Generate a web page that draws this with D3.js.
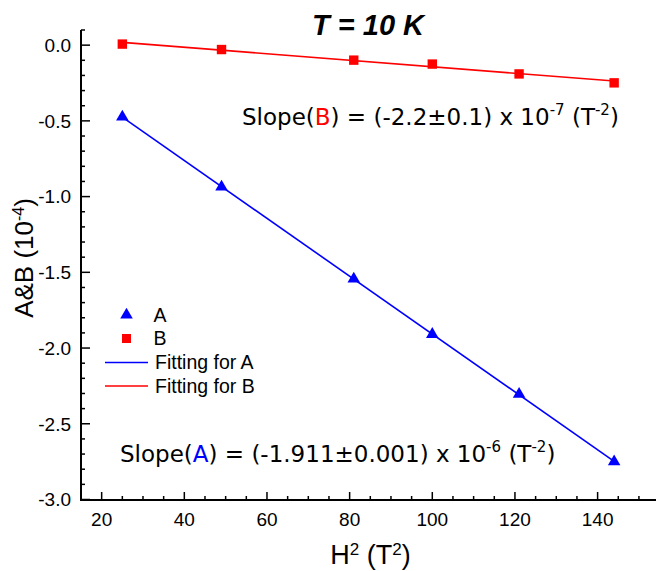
<!DOCTYPE html>
<html>
<head>
<meta charset="utf-8">
<script src="https://cdn.jsdelivr.net/npm/d3@7"></script>
<style>
  html, body { margin: 0; padding: 0; background: #fff; }
  svg { display: block; }
</style>
</head>
<body>
<svg id="chart" width="656" height="571"></svg>
<script>
// H^2 values (T^2) for H = 5, 7, 9, 10, 11, 12 T
const fieldSquared = [25, 49, 81, 100, 121, 144];
// Coefficients A and B in units of 1e-4
const seriesA = [-0.474, -0.936, -1.544, -1.909, -2.305, -2.750];
const seriesB = [0.007, -0.029, -0.099, -0.125, -0.190, -0.249];
const xTicks = [20, 40, 60, 80, 100, 120, 140];
const yTicks = [0.0, -0.5, -1.0, -1.5, -2.0, -2.5, -3.0];
const legendLabels = ["A", "B", "Fitting for A", "Fitting for B"];

const blue = "#0000ff", red = "#ff0000";
const sans = "'Liberation Sans', Arial, sans-serif";
const verdana = "'DejaVu Sans', Verdana, sans-serif";

const svg = d3.select("#chart");

const x = d3.scaleLinear().domain([15, 155]).range([81, 659.6]);
const y = d3.scaleLinear().domain([-3.0, 0.1]).range([499.5, 30]);

// least-squares straight line through a series
function linFit(xs, ys) {
  const mx = d3.mean(xs), my = d3.mean(ys);
  let sxy = 0, sxx = 0;
  xs.forEach((v, i) => { sxy += (v - mx) * (ys[i] - my); sxx += (v - mx) * (v - mx); });
  const slope = sxy / sxx;
  return { slope, intercept: my - slope * mx };
}

// bottom axis (ticks point into the plot)
const gx = svg.append("g").attr("transform", `translate(0,${y(-3.0) + 0.5})`);
gx.append("line").attr("x1", x(15) - 1).attr("x2", 660).attr("y1", 0).attr("y2", 0)
  .attr("stroke", "#000").attr("stroke-width", 2);
gx.selectAll(".tk").data(d3.range(15, 156, 5)).join("line")
  .attr("x1", d => x(d)).attr("x2", d => x(d))
  .attr("y1", 0).attr("y2", d => d % 20 === 0 ? -8 : -4)
  .attr("stroke", "#000").attr("stroke-width", 1.5);
gx.selectAll(".lbl").data(xTicks).join("text")
  .attr("x", d => x(d)).attr("y", 25.5)
  .attr("text-anchor", "middle")
  .attr("font-family", sans).attr("font-size", 19)
  .text(d => d);

// left axis
const gy = svg.append("g").attr("transform", `translate(${x(15)},0)`);
gy.append("line").attr("x1", 0).attr("x2", 0).attr("y1", y(0.1)).attr("y2", y(-3.0) + 1.5)
  .attr("stroke", "#000").attr("stroke-width", 2);
const yMinor = d3.range(-30, 2).map(v => v / 10);
gy.selectAll(".tk").data(yMinor).join("line")
  .attr("y1", d => y(d)).attr("y2", d => y(d))
  .attr("x1", 0).attr("x2", d => Math.abs(Math.round(d * 10)) % 5 === 0 ? 9 : 4)
  .attr("stroke", "#000").attr("stroke-width", 1.5);
gy.selectAll(".lbl").data(yTicks).join("text")
  .attr("x", -10).attr("y", d => y(d)).attr("dy", "0.36em")
  .attr("text-anchor", "end")
  .attr("font-family", sans).attr("font-size", 19)
  .text(d => d3.format(".1f")(d).replace("−", "-"));

// axis titles
const xt = svg.append("text").attr("x", 370.5).attr("y", 564)
  .attr("text-anchor", "middle").attr("font-family", sans).attr("font-size", 27);
xt.append("tspan").text("H");
xt.append("tspan").attr("dy", -9).attr("font-size", 17).text("2");
xt.append("tspan").attr("dy", 9).text(" (T");
xt.append("tspan").attr("dy", -9).attr("font-size", 17).text("2");
xt.append("tspan").attr("dy", 9).text(")");

const yt = svg.append("text").attr("transform", "translate(33,258) rotate(-90)")
  .attr("text-anchor", "middle").attr("font-family", sans).attr("font-size", 26);
yt.append("tspan").text("A&B (10");
yt.append("tspan").attr("dy", -9).attr("font-size", 16).text("-4");
yt.append("tspan").attr("dy", 9).text(")");

// title
svg.append("text").attr("x", 368).attr("y", 34.5)
  .attr("text-anchor", "middle").attr("font-family", sans)
  .attr("font-size", 29).attr("font-weight", "bold").attr("font-style", "italic")
  .text("T = 10 K");

// fitted lines
const fits = [
  { data: seriesA, color: blue },
  { data: seriesB, color: red }
];
fits.forEach(f => {
  const p = linFit(fieldSquared, f.data);
  const x0 = d3.min(fieldSquared), x1 = d3.max(fieldSquared);
  svg.append("line")
    .attr("x1", x(x0)).attr("y1", y(p.intercept + p.slope * x0))
    .attr("x2", x(x1)).attr("y2", y(p.intercept + p.slope * x1))
    .attr("stroke", f.color).attr("stroke-width", 1.6);
});

// markers
const tri = d3.symbol().type(d3.symbolTriangle).size(68);
svg.append("g").selectAll("path").data(fieldSquared).join("path")
  .attr("d", tri)
  .attr("transform", (d, i) => `translate(${x(d)},${y(seriesA[i])})`)
  .attr("fill", blue);
svg.append("g").selectAll("rect").data(fieldSquared).join("rect")
  .attr("x", d => x(d) - 4.7).attr("width", 9.4)
  .attr("y", (d, i) => y(seriesB[i]) - 4.7).attr("height", 9.4)
  .attr("fill", red);

// legend
const lg = svg.append("g");
lg.append("path").attr("d", tri).attr("transform", "translate(126.5,315)").attr("fill", blue);
lg.append("rect").attr("x", 122).attr("y", 334).attr("width", 9).attr("height", 9).attr("fill", red);
lg.append("line").attr("x1", 105).attr("x2", 148).attr("y1", 362.5).attr("y2", 362.5)
  .attr("stroke", blue).attr("stroke-width", 1.6);
lg.append("line").attr("x1", 105).attr("x2", 148).attr("y1", 386).attr("y2", 386)
  .attr("stroke", red).attr("stroke-width", 1.6);
const lgY = [321.5, 344.5, 368.5, 392.5];
lg.selectAll("text").data(legendLabels).join("text")
  .attr("x", (d, i) => i < 2 ? 153.5 : 155).attr("y", (d, i) => lgY[i])
  .attr("font-family", sans).attr("font-size", 19.5)
  .text(d => d);

// slope annotations
function slopeNote(px, py, name, color, value, exp) {
  const t = svg.append("text").attr("x", px).attr("y", py)
    .attr("font-family", verdana).attr("font-size", 23).attr("fill", "#000");
  t.append("tspan").text("Slope(");
  t.append("tspan").attr("fill", color).text(name);
  t.append("tspan").text(") = (" + value + ") x 10");
  t.append("tspan").attr("dy", -10).attr("font-size", 15).text(exp);
  t.append("tspan").attr("dy", 10).text(" (T");
  t.append("tspan").attr("dy", -10).attr("font-size", 15).text("-2");
  t.append("tspan").attr("dy", 10).text(")");
}
slopeNote(242, 124.5, "B", red, "-2.2\u00b10.1", "-7");
slopeNote(120, 462, "A", blue, "-1.911\u00b10.001", "-6");
</script>
</body>
</html>
